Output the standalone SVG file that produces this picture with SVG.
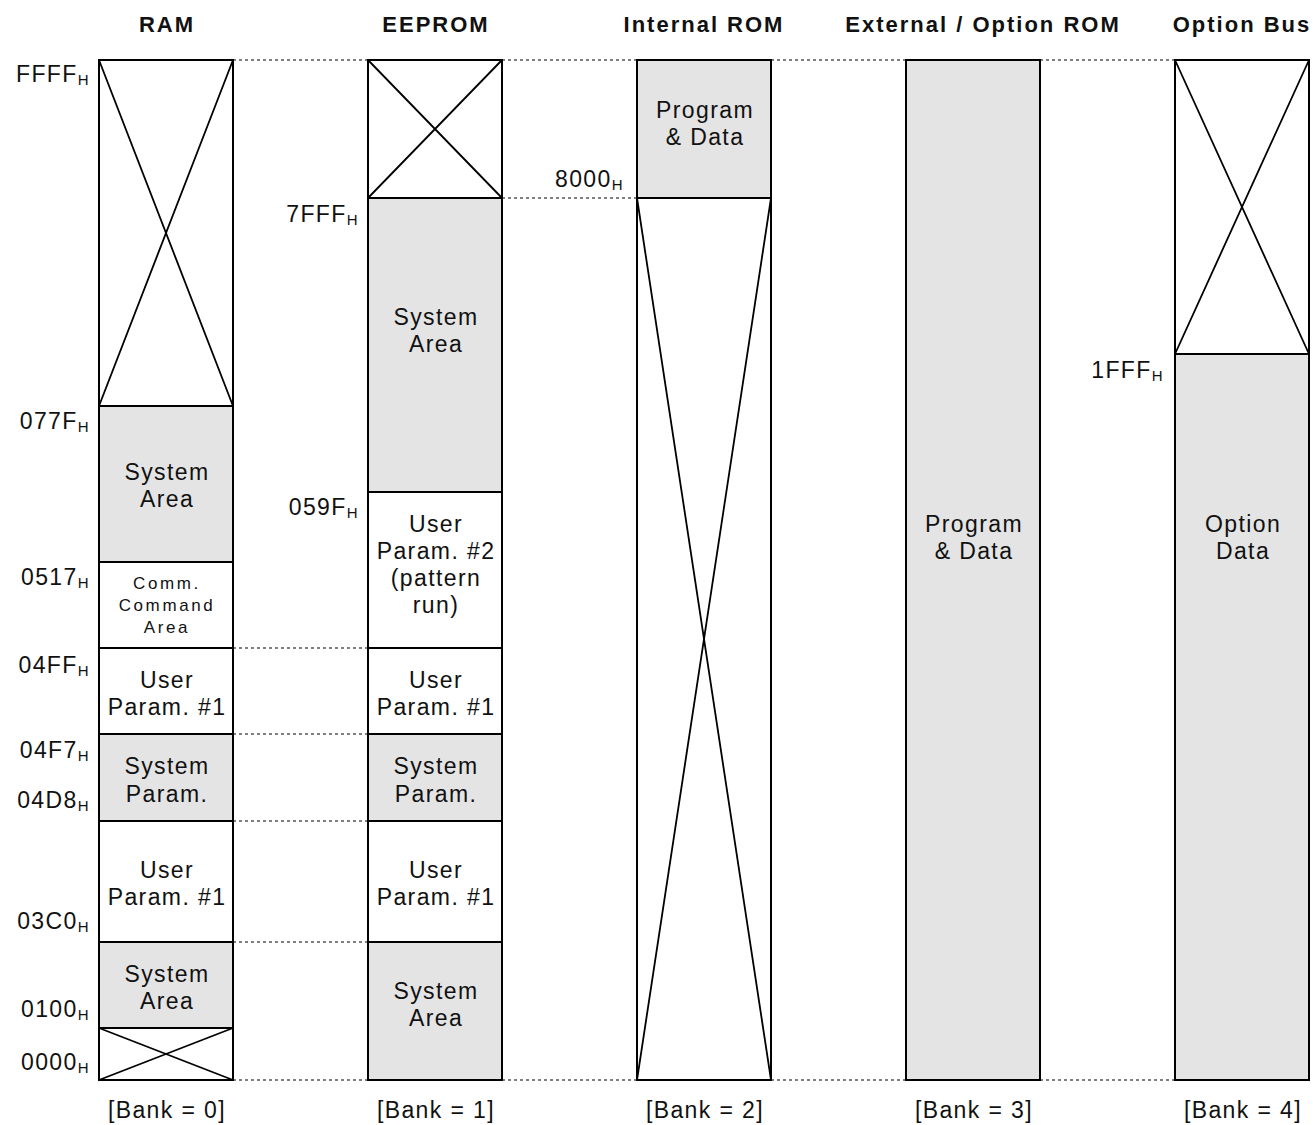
<svg xmlns="http://www.w3.org/2000/svg" width="1313" height="1125" viewBox="0 0 1313 1125">
<style>
  .bg { fill: #ffffff; }
  .box { fill: #ffffff; stroke: #000; stroke-width: 2; }
  .gray { fill: #e4e4e4; stroke: #000; stroke-width: 2; }
  .x { stroke: #000; stroke-width: 1.8; fill: none; }
  .dot { stroke: #000; stroke-width: 1.2; stroke-dasharray: 3 3; fill: none; }
  text { font-family: "Liberation Sans", Arial, sans-serif; fill: #111; }
  .hd { font-size: 22px; font-weight: bold; letter-spacing: 2px; text-anchor: middle; }
  .t { font-size: 23px; letter-spacing: 1.4px; text-anchor: middle; }
  .ts { font-size: 17px; letter-spacing: 2.6px; text-anchor: middle; }
  .a { font-size: 23px; letter-spacing: 1.4px; text-anchor: end; }
  .sub { font-size: 15px; }
</style>
<rect class="bg" x="0" y="0" width="1313" height="1125"/>

<g id="connectors">
  <path class="dot" d="M233 60H368M502 60H637M771 60H906M1040 60H1175"/>
  <path class="dot" d="M502 198H637"/>
  <path class="dot" d="M233 648H368M233 734H368M233 821H368M233 942H368"/>
  <path class="dot" d="M233 1080H368M502 1080H637M771 1080H906M1040 1080H1175"/>
</g>

<g id="headers">
  <text class="hd" x="167" y="32">RAM</text>
  <text class="hd" x="436" y="32">EEPROM</text>
  <text class="hd" x="704" y="32">Internal ROM</text>
  <text class="hd" x="983" y="32">External / Option ROM</text>
  <text class="hd" x="1242" y="32">Option Bus</text>
</g>

<g id="ram">
  <rect class="box" x="99" y="60" width="134" height="346"/>
  <path class="x" d="M99 60L233 406M233 60L99 406"/>
  <rect class="gray" x="99" y="406" width="134" height="156"/>
  <text class="t" x="167" y="480">System</text>
  <text class="t" x="167" y="507">Area</text>
  <rect class="box" x="99" y="562" width="134" height="86"/>
  <text class="ts" x="167" y="589">Comm.</text>
  <text class="ts" x="167" y="611">Command</text>
  <text class="ts" x="167" y="633">Area</text>
  <rect class="box" x="99" y="648" width="134" height="86"/>
  <text class="t" x="167" y="688">User</text>
  <text class="t" x="167" y="715">Param. #1</text>
  <rect class="gray" x="99" y="734" width="134" height="87"/>
  <text class="t" x="167" y="774">System</text>
  <text class="t" x="167" y="802">Param.</text>
  <rect class="box" x="99" y="821" width="134" height="121"/>
  <text class="t" x="167" y="878">User</text>
  <text class="t" x="167" y="905">Param. #1</text>
  <rect class="gray" x="99" y="942" width="134" height="86"/>
  <text class="t" x="167" y="982">System</text>
  <text class="t" x="167" y="1009">Area</text>
  <rect class="box" x="99" y="1028" width="134" height="52"/>
  <path class="x" d="M99 1028L233 1080M233 1028L99 1080"/>
  <text class="a" x="90" y="82">FFFF<tspan class="sub" dy="3">H</tspan></text>
  <text class="a" x="90" y="429">077F<tspan class="sub" dy="3">H</tspan></text>
  <text class="a" x="90" y="585">0517<tspan class="sub" dy="3">H</tspan></text>
  <text class="a" x="90" y="673">04FF<tspan class="sub" dy="3">H</tspan></text>
  <text class="a" x="90" y="758">04F7<tspan class="sub" dy="3">H</tspan></text>
  <text class="a" x="90" y="808">04D8<tspan class="sub" dy="3">H</tspan></text>
  <text class="a" x="90" y="929">03C0<tspan class="sub" dy="3">H</tspan></text>
  <text class="a" x="90" y="1017">0100<tspan class="sub" dy="3">H</tspan></text>
  <text class="a" x="90" y="1070">0000<tspan class="sub" dy="3">H</tspan></text>
  <text class="t" x="167" y="1118">[Bank = 0]</text>
</g>

<g id="eeprom">
  <rect class="box" x="368" y="60" width="134" height="138"/>
  <path class="x" d="M368 60L502 198M502 60L368 198"/>
  <rect class="gray" x="368" y="198" width="134" height="294"/>
  <text class="t" x="436" y="325">System</text>
  <text class="t" x="436" y="352">Area</text>
  <rect class="box" x="368" y="492" width="134" height="156"/>
  <text class="t" x="436" y="532">User</text>
  <text class="t" x="436" y="559">Param. #2</text>
  <text class="t" x="436" y="586">(pattern</text>
  <text class="t" x="436" y="613">run)</text>
  <rect class="box" x="368" y="648" width="134" height="86"/>
  <text class="t" x="436" y="688">User</text>
  <text class="t" x="436" y="715">Param. #1</text>
  <rect class="gray" x="368" y="734" width="134" height="87"/>
  <text class="t" x="436" y="774">System</text>
  <text class="t" x="436" y="802">Param.</text>
  <rect class="box" x="368" y="821" width="134" height="121"/>
  <text class="t" x="436" y="878">User</text>
  <text class="t" x="436" y="905">Param. #1</text>
  <rect class="gray" x="368" y="942" width="134" height="138"/>
  <text class="t" x="436" y="999">System</text>
  <text class="t" x="436" y="1026">Area</text>
  <text class="a" x="359" y="222">7FFF<tspan class="sub" dy="3">H</tspan></text>
  <text class="a" x="359" y="515">059F<tspan class="sub" dy="3">H</tspan></text>
  <text class="t" x="436" y="1118">[Bank = 1]</text>
</g>

<g id="internal-rom">
  <rect class="gray" x="637" y="60" width="134" height="138"/>
  <text class="t" x="705" y="118">Program</text>
  <text class="t" x="705" y="145">&amp; Data</text>
  <rect class="box" x="637" y="198" width="134" height="882"/>
  <path class="x" d="M637 198L771 1080M771 198L637 1080"/>
  <text class="a" x="624" y="187">8000<tspan class="sub" dy="3">H</tspan></text>
  <text class="t" x="705" y="1118">[Bank = 2]</text>
</g>

<g id="external-rom">
  <rect class="gray" x="906" y="60" width="134" height="1020"/>
  <text class="t" x="974" y="532">Program</text>
  <text class="t" x="974" y="559">&amp; Data</text>
  <text class="t" x="974" y="1118">[Bank = 3]</text>
</g>

<g id="option-bus">
  <rect class="box" x="1175" y="60" width="134" height="294"/>
  <path class="x" d="M1175 60L1309 354M1309 60L1175 354"/>
  <rect class="gray" x="1175" y="354" width="134" height="726"/>
  <text class="t" x="1243" y="532">Option</text>
  <text class="t" x="1243" y="559">Data</text>
  <text class="a" x="1164" y="378">1FFF<tspan class="sub" dy="3">H</tspan></text>
  <text class="t" x="1243" y="1118">[Bank = 4]</text>
</g>
</svg>
